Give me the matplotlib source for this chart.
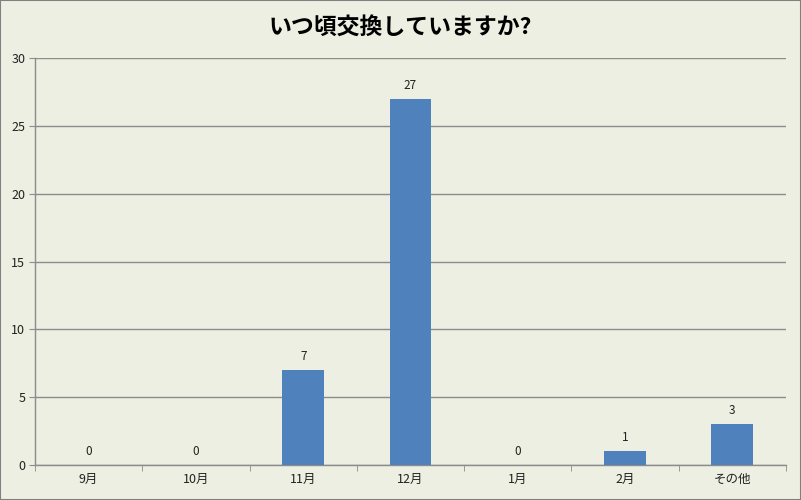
import matplotlib
matplotlib.use("Agg")
import matplotlib.pyplot as plt
from matplotlib.patches import Rectangle

plt.rcParams['font.family'] = ['Noto Sans CJK JP', 'DejaVu Sans']

title = "いつ頃交換していますか?"
categories = ["9月", "10月", "11月", "12月", "1月", "2月", "その他"]
values = [0, 0, 7, 27, 0, 1, 3]
yticks = [0, 5, 10, 15, 20, 25, 30]

bg = "#ECEFE1"
bar_color = "#4F81BD"
grid_color = "#8C8C8C"

fig = plt.figure(figsize=(8.01, 5.0), dpi=100, facecolor=bg)
fig.patches.append(Rectangle((0, 0), 1, 1, transform=fig.transFigure, fill=False,
                             edgecolor="#808080", linewidth=1.5))
W, H = 801, 500
left, right, top, bottom = 35, 786, 58, 465
ax = fig.add_axes([left / W, 1 - bottom / H, (right - left) / W, (bottom - top) / H])
ax.set_facecolor(bg)

x = list(range(len(categories)))
bars = ax.bar(x, values, width=0.39, color=bar_color, zorder=3)
for xi, v in zip(x, values):
    ax.annotate(str(v), (xi, v), xytext=(0, 5), textcoords="offset points",
                ha="center", va="bottom", fontsize=8.5, color="#222222")

ax.set_xlim(-0.5, len(categories) - 0.5)
ax.set_ylim(0, 30)
ax.set_yticks(yticks)
ax.set_yticklabels([str(t) for t in yticks], fontsize=9, color="#222222")
ax.yaxis.grid(True, color=grid_color, linewidth=1, zorder=0)
ax.set_axisbelow(True)

ax.set_xticks(x)
ax.set_xticklabels(categories, fontsize=9, color="#222222")
ax.tick_params(axis='x', length=0, pad=6)
ax.set_xticks([i - 0.5 for i in range(len(categories) + 1)], minor=True)
ax.tick_params(axis='x', which='minor', length=4, color=grid_color, direction='out')
ax.tick_params(axis='y', length=4, color=grid_color, direction='out', pad=3)

for s in ['top', 'right']:
    ax.spines[s].set_visible(False)
for s in ['left', 'bottom']:
    ax.spines[s].set_color(grid_color)
    ax.spines[s].set_linewidth(1)

fig.text(0.5, 1 - 27 / H, title, ha="center", va="center", fontsize=16.5,
         fontweight="bold", color="#000000")

fig.savefig("out.png", dpi=100, facecolor=bg)
